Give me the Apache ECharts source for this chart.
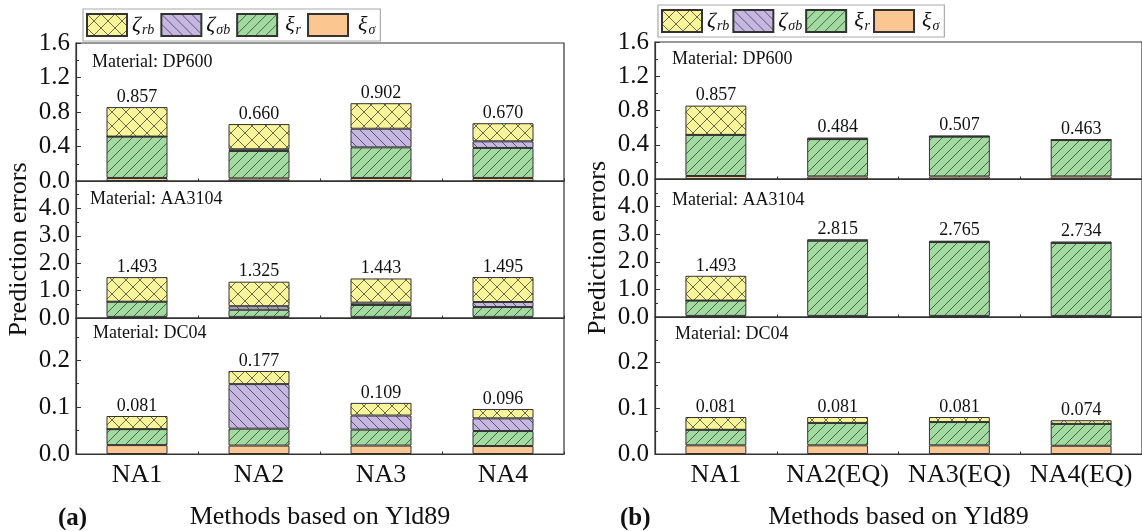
<!DOCTYPE html>
<html><head><meta charset="utf-8">
<script src="https://cdn.jsdelivr.net/npm/echarts@6/dist/echarts.min.js"></script>
<style>html,body{margin:0;padding:0;background:#fff}#c{width:1142px;height:531px}</style>
</head><body><div id="c"></div>
<script>
// ---------------- data ----------------
const categoriesA = ['NA1', 'NA2', 'NA3', 'NA4'];
const categoriesB = ['NA1', 'NA2(EQ)', 'NA3(EQ)', 'NA4(EQ)'];
const materials = ['DP600', 'AA3104', 'DC04'];
const legendNames = ['ζrb', 'ζσb', 'ξr', 'ξσ'];
const legendMain = ['ζ', 'ζ', 'ξ', 'ξ'];
const legendSub = ['rb', 'σb', 'r', 'σ'];
const xAxisTitle = 'Methods based on Yld89';
const yAxisTitle = 'Prediction errors';

// y-axis ticks per material: [max, interval]
const yMax = [1.6, 5.0, 0.29];
const yMaxB = [1.6, 5.0, 0.30];
const yInterval = [0.4, 1.0, 0.1];

// Panel (a) - components stacked bottom to top: xi_sigma, xi_r, zeta_sigma_b, zeta_r_b
const a_DP600_xiSigma = [0.035, 0.030, 0.035, 0.035];
const a_DP600_xiR = [0.480, 0.318, 0.355, 0.348];
const a_DP600_zetaSigmaB = [0.000, 0.020, 0.216, 0.077];
const a_DP600_zetaRB = [0.342, 0.292, 0.296, 0.210];
const a_DP600_total = [0.857, 0.660, 0.902, 0.670];

const a_AA3104_xiSigma = [0.040, 0.040, 0.040, 0.040];
const a_AA3104_xiR = [0.555, 0.260, 0.435, 0.360];
const a_AA3104_zetaSigmaB = [0.000, 0.130, 0.085, 0.184];
const a_AA3104_zetaRB = [0.898, 0.895, 0.883, 0.911];
const a_AA3104_total = [1.493, 1.325, 1.443, 1.495];

const a_DC04_xiSigma = [0.019, 0.018, 0.018, 0.017];
const a_DC04_xiR = [0.034, 0.036, 0.034, 0.032];
const a_DC04_zetaSigmaB = [0.000, 0.095, 0.030, 0.027];
const a_DC04_zetaRB = [0.028, 0.028, 0.027, 0.020];
const a_DC04_total = [0.081, 0.177, 0.109, 0.096];

// Panel (b)
const b_DP600_xiSigma = [0.035, 0.030, 0.030, 0.030];
const b_DP600_xiR = [0.480, 0.436, 0.465, 0.425];
const b_DP600_zetaSigmaB = [0.000, 0.000, 0.000, 0.000];
const b_DP600_zetaRB = [0.342, 0.018, 0.012, 0.008];
const b_DP600_total = [0.857, 0.484, 0.507, 0.463];

const b_AA3104_xiSigma = [0.040, 0.040, 0.040, 0.040];
const b_AA3104_xiR = [0.555, 2.725, 2.675, 2.644];
const b_AA3104_zetaSigmaB = [0.000, 0.000, 0.000, 0.000];
const b_AA3104_zetaRB = [0.898, 0.050, 0.050, 0.050];
const b_AA3104_total = [1.493, 2.815, 2.765, 2.734];

const b_DC04_xiSigma = [0.019, 0.019, 0.019, 0.018];
const b_DC04_xiR = [0.034, 0.049, 0.051, 0.048];
const b_DC04_zetaSigmaB = [0.000, 0.000, 0.000, 0.000];
const b_DC04_zetaRB = [0.028, 0.013, 0.011, 0.008];
const b_DC04_total = [0.081, 0.081, 0.081, 0.074];

// ---------------- build ----------------
const FONT = "'Liberation Serif', 'Times New Roman', serif";
const AXIS = '#333';

function makePattern(bg, kind, size) {
  const c = document.createElement('canvas');
  c.width = size; c.height = size;
  const g = c.getContext('2d');
  g.fillStyle = bg; g.fillRect(0, 0, size, size);
  g.strokeStyle = 'rgba(40,40,40,0.85)'; g.lineWidth = 0.8;
  const s = size;
  g.beginPath();
  if (kind === 'fwd' || kind === 'cross') {
    g.moveTo(-1, 1); g.lineTo(1, -1);
    g.moveTo(0, s); g.lineTo(s, 0);
    g.moveTo(s - 1, s + 1); g.lineTo(s + 1, s - 1);
  }
  if (kind === 'back' || kind === 'cross') {
    g.moveTo(0, 0); g.lineTo(s, s);
    g.moveTo(-1, s - 1); g.lineTo(1, s + 1);
    g.moveTo(s - 1, -1); g.lineTo(s + 1, 1);
  }
  g.stroke();
  return { image: c, repeat: 'repeat' };
}

// bottom -> top
const compNames = ['ξσ', 'ξr', 'ζσb', 'ζrb'];
const compFill = [
  '#FBC68F',
  makePattern('#A2DBA0', 'fwd', 10),
  makePattern('#C6B6E2', 'back', 10),
  makePattern('#F7F49A', 'cross', 14)
];

const panels = [
  {
    cats: categoriesA,
    left: 76, width: 488,
    grids: [[43, 138], [181, 137], [318, 137]],
    max: yMax,
    comps: [
      [a_DP600_xiSigma, a_DP600_xiR, a_DP600_zetaSigmaB, a_DP600_zetaRB],
      [a_AA3104_xiSigma, a_AA3104_xiR, a_AA3104_zetaSigmaB, a_AA3104_zetaRB],
      [a_DC04_xiSigma, a_DC04_xiR, a_DC04_zetaSigmaB, a_DC04_zetaRB]
    ],
    totals: [a_DP600_total, a_AA3104_total, a_DC04_total],
    matPos: [[92, 53], [90, 190], [93, 324]],
    tag: '(a)', tagPos: [58, 506],
    legendPos: [83, 9], itemGap: 6, textPad: [0, 0, 3, 5]
  },
  {
    cats: categoriesB,
    left: 655, width: 487,
    grids: [[42, 137], [179, 138], [317, 138]],
    max: yMaxB,
    comps: [
      [b_DP600_xiSigma, b_DP600_xiR, b_DP600_zetaSigmaB, b_DP600_zetaRB],
      [b_AA3104_xiSigma, b_AA3104_xiR, b_AA3104_zetaSigmaB, b_AA3104_zetaRB],
      [b_DC04_xiSigma, b_DC04_xiR, b_DC04_zetaSigmaB, b_DC04_zetaRB]
    ],
    totals: [b_DP600_total, b_AA3104_total, b_DC04_total],
    matPos: [[672, 50], [672, 191], [675, 325]],
    tag: '(b)', tagPos: [620, 506],
    legendPos: [658, 5], itemGap: 3, textPad: [0, 0, 3, 3]
  }
];

const grid = [], xAxis = [], yAxis = [], series = [], title = [], legend = [];

panels.forEach((P, pi) => {
  P.grids.forEach((gd, gi) => {
    const gIdx = grid.length;
    const isBottom = gi === 2;
    grid.push({
      left: P.left, top: gd[0], width: P.width, height: gd[1],
      show: true, borderColor: AXIS, borderWidth: 1.2, containLabel: false
    });
    const xIdx = xAxis.length;
    xAxis.push({
      type: 'category', gridIndex: gIdx, data: P.cats, position: 'bottom',
      axisLine: { show: true, lineStyle: { color: AXIS, width: 1.2 } },
      axisTick: { show: true, alignWithLabel: true, inside: true, length: 4, lineStyle: { color: AXIS } },
      axisLabel: { show: isBottom, interval: 0, fontSize: 26, fontFamily: FONT, color: '#111', margin: 8 },
      name: isBottom ? xAxisTitle : '', nameLocation: 'middle', nameGap: 50,
      nameTextStyle: { fontSize: 26, fontFamily: FONT, color: '#111' },
      splitLine: { show: false }
    });
    // boundary ticks
    xAxis.push({
      type: 'category', gridIndex: gIdx, data: P.cats, position: 'bottom',
      axisLine: { show: false },
      axisTick: { show: true, alignWithLabel: false, inside: true, length: 2.5, lineStyle: { color: AXIS } },
      axisLabel: { show: false }, splitLine: { show: false }
    });
    const yIdx = yAxis.length;
    yAxis.push({
      type: 'value', gridIndex: gIdx, min: 0, max: P.max[gi], interval: yInterval[gi],
      axisLine: { show: true, lineStyle: { color: AXIS, width: 1.2 } },
      axisTick: { show: true, inside: true, length: 5, lineStyle: { color: AXIS } },
      minorTick: { show: true, splitNumber: 2, length: 3, lineStyle: { color: AXIS } },
      splitLine: { show: false },
      axisLabel: {
        fontSize: 25, fontFamily: FONT, color: '#111', margin: 6,
        showMaxLabel: gi === 0, showMinLabel: true,
        formatter: v => v.toFixed(1)
      },
      name: gi === 1 ? yAxisTitle : '', nameLocation: 'middle', nameGap: 44,
      nameTextStyle: { fontSize: 26, fontFamily: FONT, color: '#111' }
    });
    const comps = P.comps[gi];
    const totals = P.totals[gi];
    comps.forEach((arr, ci) => {
      const isTop = ci === 3;
      series.push({
        type: 'bar', name: compNames[ci], xAxisIndex: xIdx, yAxisIndex: yIdx,
        stack: 'p' + pi + 'g' + gi, barWidth: '50%', data: arr,
        itemStyle: { color: compFill[ci], borderColor: '#333', borderWidth: 1 },
        emphasis: { disabled: true },
        label: isTop ? {
          show: true, position: 'top', distance: 1,
          fontSize: 18, fontFamily: FONT, color: '#111',
          formatter: p => totals[p.dataIndex].toFixed(3)
        } : { show: false }
      });
    });
    title.push({
      text: 'Material: ' + materials[gi], left: P.matPos[gi][0], top: P.matPos[gi][1], padding: 0,
      textStyle: { fontSize: 18, fontWeight: 'normal', fontFamily: FONT, color: '#111' }
    });
  });
  title.push({
    text: P.tag, left: P.tagPos[0], top: P.tagPos[1], padding: 0,
    textStyle: { fontSize: 25, fontWeight: 'bold', fontFamily: FONT, color: '#111' }
  });
  const rich = {};
  legendNames.forEach((n, i) => {
    rich['m' + i] = { fontSize: 22, fontStyle: 'italic', fontFamily: FONT, color: '#111', lineHeight: 24, padding: [0, 0, 0, P.textPad[i]] };
    rich['s' + i] = { fontSize: 14, fontStyle: 'italic', fontFamily: FONT, color: '#111', verticalAlign: 'bottom', lineHeight: 14, padding: [0, 0, 0, 1] };
  });
  legend.push({
    data: legendNames, left: P.legendPos[0], top: P.legendPos[1], orient: 'horizontal',
    icon: 'rect', itemWidth: 40, itemHeight: 22, itemGap: P.itemGap,
    padding: [4, 5, 4, 3], borderColor: '#aaa', borderWidth: 1.2,
    selectedMode: false,
    formatter: name => {
      const i = legendNames.indexOf(name);
      return '{m' + i + '|' + legendMain[i] + '}{s' + i + '|' + legendSub[i] + '}';
    },
    textStyle: { color: '#111', fontFamily: FONT, rich }
  });
});

const chart = echarts.init(document.getElementById('c'), null, { renderer: 'canvas' });
chart.setOption({
  animation: false,
  backgroundColor: '#fff',
  grid, xAxis, yAxis, series, title, legend
});
</script>
</body></html>
